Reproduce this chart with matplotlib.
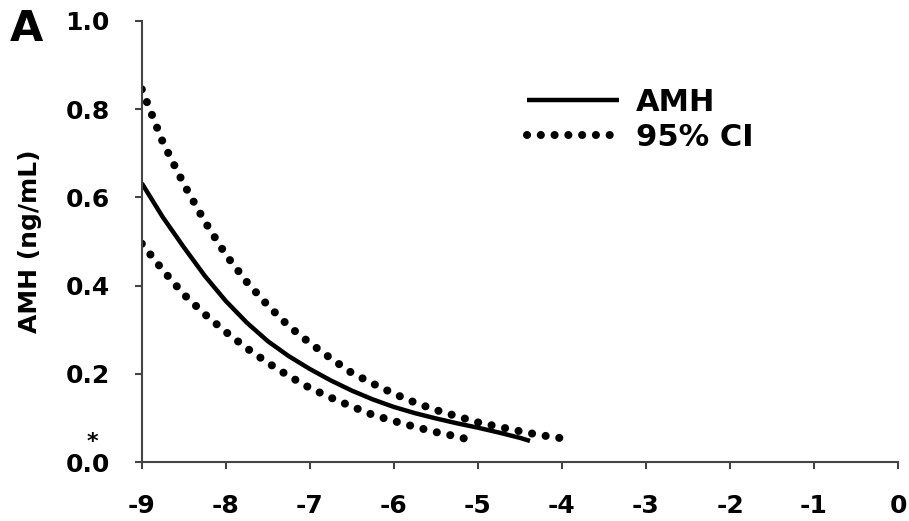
import numpy as np
import matplotlib.pyplot as plt

plt.rcParams['font.family'] = ['DejaVu Sans']
plt.rcParams['font.weight'] = 'bold'

# valores
x_amh = [-9.0, -8.75, -8.5, -8.25, -8.0, -7.75, -7.5, -7.25, -7.0, -6.75, -6.5,
         -6.25, -6.0, -5.75, -5.5, -5.25, -5.0, -4.75, -4.5, -4.38]
y_amh = [0.632, 0.555, 0.487, 0.422, 0.365, 0.316, 0.274, 0.240, 0.211, 0.185, 0.162,
         0.142, 0.125, 0.111, 0.099, 0.088, 0.078, 0.067, 0.055, 0.048]

x_sup = [-9.0, -8.75, -8.5, -8.25, -8.0, -7.75, -7.5, -7.25, -7.0, -6.75, -6.5,
         -6.25, -6.0, -5.75, -5.5, -5.25, -5.0, -4.75, -4.5, -4.25, -4.0]
y_sup = [0.845, 0.725, 0.630, 0.545, 0.470, 0.408, 0.355, 0.308, 0.270, 0.235, 0.202,
         0.178, 0.155, 0.135, 0.118, 0.104, 0.090, 0.080, 0.070, 0.061, 0.054]

x_inf = [-9.0, -8.75, -8.5, -8.25, -8.0, -7.75, -7.5, -7.25, -7.0, -6.75, -6.5,
         -6.25, -6.0, -5.75, -5.5, -5.25, -5.13]
y_inf = [0.495, 0.435, 0.380, 0.335, 0.295, 0.258, 0.225, 0.195, 0.168, 0.146, 0.126,
         0.107, 0.093, 0.080, 0.068, 0.058, 0.052]

xticks = [-9, -8, -7, -6, -5, -4, -3, -2, -1, 0]
yticks = [0.0, 0.2, 0.4, 0.6, 0.8, 1.0]

fig = plt.figure(figsize=(9.09, 5.21), dpi=100)
ax = fig.add_axes([0.156, 0.113, 0.832, 0.847])

ax.plot(x_amh, y_amh, color='black', lw=3.2, solid_capstyle='butt', label='AMH')
ax.plot(x_sup, y_sup, color='black', lw=5.8, linestyle=(0, (0.01, 1.7)),
        dash_capstyle='round', label='95% CI')
ax.plot(x_inf, y_inf, color='black', lw=5.8, linestyle=(0, (0.01, 1.7)),
        dash_capstyle='round')

ax.set_xlim(-9, 0)
ax.set_ylim(0, 1.0)
ax.set_xticks(xticks)
ax.set_xticklabels([str(t) for t in xticks])
ax.set_yticks(yticks)
ax.set_yticklabels(['%.1f' % t for t in yticks])

for s in ['top', 'right']:
    ax.spines[s].set_visible(False)
for s in ['left', 'bottom']:
    ax.spines[s].set_color('#444444')
    ax.spines[s].set_linewidth(1.5)
    ax.spines[s].set_clip_on(False)

ax.tick_params(axis='x', direction='out', length=5, width=1.5, color='#444444',
               labelsize=18, pad=18)
ax.tick_params(axis='y', direction='out', length=5, width=1.5, color='#444444',
               labelsize=18, pad=18)

ax.set_ylabel('AMH (ng/mL)', fontsize=18, fontweight='bold', labelpad=17)

ax.legend(loc='upper left', bbox_to_anchor=(0.58, 0.832), bbox_transform=fig.transFigure,
          frameon=False, fontsize=22, handlelength=3.0, handletextpad=0.55,
          labelspacing=0.2, borderpad=0, borderaxespad=0)

fig.text(0.011, 0.985, 'A', fontsize=31, fontweight='bold', va='top', ha='left')
fig.text(0.102, 0.152, '*', fontsize=16, fontweight='bold', ha='center', va='center')

fig.savefig('out.png', dpi=100)
